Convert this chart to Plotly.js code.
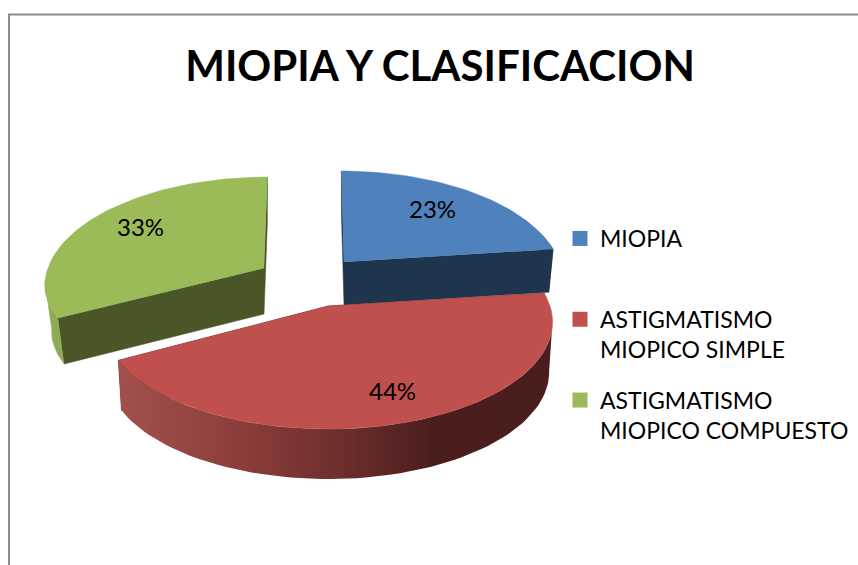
<!DOCTYPE html>
<html><head><meta charset="utf-8">
<script src="https://cdn.plot.ly/plotly-3.0.1.min.js"></script>
<style>html,body{margin:0;padding:0;background:#fff}#c{width:858px;height:565px}</style>
</head><body><div id="c"></div>
<script>
const categories = ["MIOPIA", "ASTIGMATISMO<br>MIOPICO SIMPLE", "ASTIGMATISMO<br>MIOPICO COMPUESTO"];
const values = [23, 44, 33];
const topColors = ["#4f81bd", "#c0504d", "#9bbb59"];
const faceColors = ["#1f344d", "#4a1e1d", "#4a5528"];
const wallColors = ["#1f344d", null, "#8fa957"];
const titleText = "MIOPIA Y CLASIFICACION";

// Exploded-pie projection for each slice: apex, radii, thickness, lean, taper, visible rim limit
const geom = [
  {cx:344, cy:262, rx:215, ry:104.6, d:43, lean:-3, f:1, taper:0.98, rimFrom:75, rimTo:null},
  {cx:328, cy:306, rx:222, ry:104.6, d:50, lean:0, f:1, taper:0.985, rimFrom:98, rimTo:null},
  {cx:264, cy:268, rx:216, ry:104.6, d:46, lean:4, f:0.92, taper:0.97, rimFrom:null, rimTo:262}
];
const labelPos = [[432,208],[392,390],[140,226]];
const K = 0.15;
const redWall = [[0,"#a3504d"],[0.3,"#8a3c39"],[0.5,"#6f2f2d"],[0.72,"#4b1e1d"],[1,"#4a1e1d"]];

function proj(g, deg, low){
  const a = deg*Math.PI/180, u = Math.sin(a), v = Math.cos(a), w = 1+K*v;
  let X = g.rx*u/w + g.lean*v/w, Y = -g.ry*v/w;
  if(Y>0) Y *= g.f;
  if(low){ X *= g.taper; Y += g.d; }
  return [g.cx+X, g.cy+Y];
}
function arc(g, a0, a1, low){
  const pts = [];
  const n = Math.max(2, Math.ceil(Math.abs(a1-a0)/2));
  for(let i=0;i<=n;i++) pts.push(proj(g, a0+(a1-a0)*i/n, low));
  return pts;
}
function poly(pts, color, extra){
  return Object.assign({
    x: pts.map(p=>p[0]), y: pts.map(p=>p[1]),
    mode:"lines", fill:"toself", fillcolor:color,
    line:{width:0.5,color:color}, hoverinfo:"skip", showlegend:false
  }, extra||{});
}
const total = values.reduce((a,b)=>a+b,0);
let acc = 0;
const spans = values.map(v=>{const s=[acc/total*360,(acc+v)/total*360]; acc+=v; return s;});

const traces = [];
[0,2,1].forEach(i=>{
  const g = geom[i], [a0,a1] = spans[i];
  const apexT = [g.cx,g.cy], apexB = [g.cx,g.cy+g.d];
  traces.push(poly([apexT,proj(g,a0),proj(g,a0,true),apexB], faceColors[i]));
  traces.push(poly([apexT,proj(g,a1),proj(g,a1,true),apexB], faceColors[i]));
  const r0 = g.rimFrom===null ? a0 : Math.max(a0,g.rimFrom);
  const r1 = g.rimTo===null ? a1 : Math.min(a1,g.rimTo);
  const wall = arc(g,r0,r1,false).concat(arc(g,r1,r0,true));
  if(wallColors[i]) traces.push(poly(wall, wallColors[i]));
  else traces.push(poly(wall, "#6f2f2d", {fillgradient:{type:"horizontal",colorscale:redWall}, line:{width:0}}));
  traces.push(poly([apexT].concat(arc(g,a0,a1,false)), topColors[i], {name:categories[i]}));
});
// legend keys (single-line entry keeps a blank second line, as in the source spacing)
categories.forEach((c,i)=>traces.push({
  x:[null], y:[null], mode:"markers", name:c.includes("<br>")?c:c+"<br>\u00a0", legendgroup:"g"+i,
  marker:{symbol:"square",size:15,color:topColors[i]}, hoverinfo:"skip"
}));

const layout = {
  width:858, height:565, margin:{l:0,r:0,t:0,b:0},
  paper_bgcolor:"#fff", plot_bgcolor:"#fff",
  font:{family:"Lato, sans-serif", color:"#000"},
  title:{text:"<b>"+titleText+"</b>", font:{family:"Lato, sans-serif",size:42,color:"#000"},
    x:440/858, xanchor:"center", y:1-66/565, yanchor:"middle", yref:"container"},
  xaxis:{range:[0,858],visible:false,fixedrange:true},
  yaxis:{range:[565,0],visible:false,fixedrange:true},
  showlegend:true,
  legend:{x:560/858, y:1-217/565, xanchor:"left", yanchor:"top", bgcolor:"rgba(0,0,0,0)",
    font:{family:"Lato, sans-serif",size:23,color:"#000"}, tracegroupgap:18, itemwidth:30, valign:"top"},
  shapes:[{type:"path", xref:"x", yref:"y", path:"M9 566 L9 14.5 L860 14.5", line:{color:"#8c8c8c",width:2}}],
  annotations: values.map((v,i)=>({x:labelPos[i][0], y:labelPos[i][1], xref:"x", yref:"y",
    text:v+"%", showarrow:false, font:{family:"Lato, sans-serif",size:24,color:"#000"}}))
};
Plotly.newPlot("c", traces, layout, {displayModeBar:false, staticPlot:true});
</script></body></html>
